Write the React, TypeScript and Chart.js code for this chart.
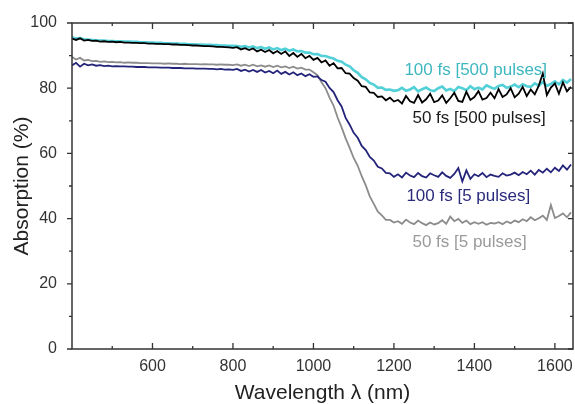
import React, { useEffect, useRef } from "react";
import { Chart, registerables } from "chart.js";

Chart.register(...registerables);

// sampling grid of the spectra (nm), 400..1640 every 10 nm
const wavelengths: number[] = Array.from({ length: 125 }, (_, i) => 400 + 10 * i);

const cyan500: number[] = [
  95.6, 95.2, 95.4, 95.0, 94.9, 94.8, 94.7, 94.6, 94.6, 94.5, 94.5,
  94.4, 94.4, 94.3, 94.3, 94.2, 94.2, 94.1, 94.1, 94.0, 94.0,
  93.9, 93.9, 93.8, 93.8, 93.7, 93.7, 93.6, 93.6, 93.5, 93.5,
  93.4, 93.4, 93.3, 93.3, 93.2, 93.2, 93.1, 93.1, 93.0, 93.0,
  92.9, 92.7, 92.9, 92.5, 92.8, 92.3, 92.6, 92.1, 92.5, 91.9,
  92.3, 91.7, 92.1, 91.5, 91.9, 91.3, 91.4, 90.9, 90.9, 90.4,
  90.5, 89.9, 89.9, 89.4, 89.1, 88.4, 88.1, 87.2, 86.7, 85.5,
  84.7, 83.4, 82.7, 81.6, 81.1, 80.1, 80.2, 79.5, 79.6, 79.2,
  79.4, 80.1, 79.2, 79.6, 80.3, 79.0, 79.7, 80.2, 79.4, 79.1,
  80.0, 80.5, 79.3, 79.8, 79.1, 80.4, 80.0, 79.4, 80.6, 79.7,
  80.2, 79.6, 80.9, 80.3, 79.8, 80.7, 81.0, 80.1, 80.5, 81.1,
  80.3, 81.2, 80.6, 80.4, 81.5, 80.8, 81.9, 80.7, 81.3, 82.1,
  81.2, 82.5, 81.7, 82.8,
];

const black500: number[] = [
  95.2, 94.8, 95.3, 94.6, 94.8, 94.5, 94.6, 94.3, 94.4, 94.2, 94.3,
  94.1, 94.2, 94.0, 94.0, 93.9, 93.9, 93.8, 93.8, 93.7, 93.7,
  93.6, 93.6, 93.5, 93.5, 93.4, 93.4, 93.3, 93.3, 93.2, 93.1,
  93.1, 93.0, 92.9, 92.9, 92.8, 92.7, 92.7, 92.6, 92.5, 92.4,
  92.6, 91.9, 92.3, 91.7, 92.2, 91.3, 91.8, 91.1, 91.7, 90.7,
  91.4, 90.5, 91.3, 89.9, 90.8, 89.6, 90.5, 89.2, 89.9, 88.7,
  89.3, 87.9, 88.5, 86.9, 87.7, 86.1, 86.2, 84.6, 84.5, 83.1,
  82.3, 80.6, 80.4, 78.7, 78.6, 77.3, 77.5, 76.3, 77.1, 75.9,
  76.4, 75.3, 77.6, 76.0, 75.5, 77.9, 75.6, 76.6, 78.3, 75.7,
  76.2, 77.8, 75.5, 76.9, 78.6, 76.1, 75.8, 78.9, 76.4, 77.3,
  79.1, 76.5, 77.0, 78.6, 76.9, 79.7, 77.3, 78.1, 80.0, 77.2,
  78.3, 80.4, 77.6, 79.6, 78.1, 80.8, 84.5, 77.9, 80.2, 81.5,
  78.3, 81.8, 79.0, 80.4,
];

const navy5: number[] = [
  87.0, 87.8, 86.6, 87.5, 87.0, 87.3, 86.9, 87.1, 86.8, 86.9, 86.7,
  86.8, 86.7, 86.7, 86.6, 86.6, 86.5, 86.5, 86.5, 86.4, 86.4,
  86.4, 86.3, 86.3, 86.3, 86.2, 86.2, 86.2, 86.1, 86.1, 86.1,
  86.0, 86.0, 86.0, 85.9, 85.9, 85.8, 85.9, 85.7, 85.8, 85.6,
  85.9, 85.3, 85.7, 85.1, 85.6, 85.0, 85.6, 84.8, 85.3, 84.6,
  85.4, 84.4, 85.0, 84.2, 84.9, 84.0, 84.5, 83.7, 84.3, 83.5,
  83.6, 82.5, 82.0, 80.1, 78.8, 76.3, 74.4, 70.9, 68.8, 66.3,
  64.8, 62.3, 61.0, 58.9, 57.8, 55.9, 55.4, 54.0, 53.9, 52.8,
  53.6, 52.6, 54.1, 53.2, 52.7, 54.0, 53.0, 52.6, 53.9, 53.3,
  52.8, 54.2, 53.1, 52.5, 53.7, 55.5, 51.4, 54.8, 52.2, 53.6,
  53.0, 54.0, 52.7, 53.5, 53.1, 52.8, 53.9, 53.2, 53.5, 54.1,
  53.3, 54.3, 53.6, 54.7, 53.5, 54.9, 54.1, 55.3, 54.2, 55.6,
  54.6, 56.3, 55.0, 56.6,
];

const gray5: number[] = [
  89.6, 88.8, 89.3, 88.5, 88.7, 88.3, 88.4, 88.1, 88.2, 88.0, 88.1,
  87.9, 88.0, 87.8, 87.9, 87.8, 87.8, 87.7, 87.7, 87.7, 87.6,
  87.6, 87.6, 87.5, 87.6, 87.5, 87.5, 87.4, 87.5, 87.4, 87.4,
  87.4, 87.3, 87.4, 87.3, 87.3, 87.2, 87.3, 87.2, 87.2, 87.1,
  87.3, 86.9, 87.2, 86.8, 87.2, 86.7, 87.0, 86.6, 87.0, 86.5,
  86.9, 86.4, 86.7, 86.2, 86.6, 86.0, 86.3, 85.7, 85.7, 84.9,
  84.0, 81.8, 80.0, 77.1, 74.7, 71.0, 68.0, 64.6, 61.7, 58.6,
  56.2, 53.0, 50.2, 46.8, 44.5, 42.1, 41.0, 39.6, 39.6, 38.8,
  39.2, 38.4, 39.7, 38.8, 38.3, 39.4, 38.6, 38.0, 38.8, 38.2,
  38.6, 39.5, 38.4, 40.6, 39.2, 39.9, 38.7, 39.4, 38.3, 38.9,
  38.4, 38.9, 38.1, 38.7, 38.5, 38.9, 38.3, 39.1, 38.6, 39.4,
  38.9, 39.8, 39.2, 40.4, 39.5, 40.1, 40.9, 39.6, 44.2, 40.2,
  40.8, 41.6, 40.4, 41.9,
];

const xTickValues: number[] = [600, 800, 1000, 1200, 1400, 1600];
const xMinorValues: number[] = [500, 700, 900, 1100, 1300, 1500];
const yTickValues: number[] = [0, 20, 40, 60, 80, 100];
const yMinorValues: number[] = [10, 30, 50, 70, 90];

const seriesNames: string[] = [
  "100 fs [500 pulses]",
  "50 fs [500 pulses]",
  "100 fs [5 pulses]",
  "50 fs [5 pulses]",
];

// label anchors in data coordinates (wavelength, absorption)
const labelAnchorX: number[] = [1226, 1246, 1231, 1246];
const labelAnchorY: number[] = [85.6, 70.9, 46.8, 32.7];
const labelColors: string[] = ["#3db7c0", "#1a1a1a", "#2b2b7d", "#9a9a9a"];

const FONT = '"Liberation Sans", Arial, Helvetica, sans-serif';

const framePlugin = {
  id: "frameTicksLabels",
  afterDatasetsDraw(chart: any) {
    const { ctx, chartArea, scales } = chart;
    const { left, right, top, bottom } = chartArea;
    const xs = scales.x;
    const ys = scales.y;
    ctx.save();
    ctx.strokeStyle = "#333333";
    ctx.lineWidth = 1.5;
    ctx.strokeRect(left, top, right - left, bottom - top);
    ctx.lineWidth = 1.3;
    ctx.beginPath();
    for (const v of xTickValues) {
      const px = xs.getPixelForValue(v);
      ctx.moveTo(px, bottom); ctx.lineTo(px, bottom - 6);
      ctx.moveTo(px, top); ctx.lineTo(px, top + 6);
    }
    for (const v of xMinorValues) {
      const px = xs.getPixelForValue(v);
      ctx.moveTo(px, bottom); ctx.lineTo(px, bottom - 3);
      ctx.moveTo(px, top); ctx.lineTo(px, top + 3);
    }
    for (const v of yTickValues) {
      const py = ys.getPixelForValue(v);
      ctx.moveTo(left, py); ctx.lineTo(left - 5, py);
      ctx.moveTo(right, py); ctx.lineTo(right - 5, py);
    }
    for (const v of yMinorValues) {
      const py = ys.getPixelForValue(v);
      ctx.moveTo(left, py); ctx.lineTo(left - 3, py);
      ctx.moveTo(right, py); ctx.lineTo(right - 3, py);
    }
    ctx.stroke();

    ctx.font = `17px ${FONT}`;
    ctx.textAlign = "left";
    ctx.textBaseline = "middle";
    seriesNames.forEach((name, i) => {
      ctx.fillStyle = labelColors[i];
      ctx.fillText(name, xs.getPixelForValue(labelAnchorX[i]), ys.getPixelForValue(labelAnchorY[i]));
    });
    ctx.restore();
  },
};

export default function App() {
  const canvasRef = useRef<HTMLCanvasElement | null>(null);

  useEffect(() => {
    document.body.style.margin = "0";
    const canvas = canvasRef.current;
    if (!canvas) return;
    const mk = (arr: number[]) => wavelengths.map((w, i) => ({ x: w, y: arr[i] }));
    const chart = new Chart(canvas, {
      type: "line",
      data: {
        datasets: [
          { label: seriesNames[1], data: mk(black500), borderColor: "#000000", borderWidth: 1.8 },
          { label: seriesNames[0], data: mk(cyan500), borderColor: "#52d0d8", borderWidth: 2.6 },
          { label: seriesNames[2], data: mk(navy5), borderColor: "#23237a", borderWidth: 1.8 },
          { label: seriesNames[3], data: mk(gray5), borderColor: "#8c8c8c", borderWidth: 1.8 },
        ].map((d) => ({ ...d, pointRadius: 0, tension: 0, fill: false })),
      },
      options: {
        animation: false,
        responsive: false,
        maintainAspectRatio: false,
        layout: { padding: { top: 23, right: 2, left: 0, bottom: 0 } },
        plugins: { legend: { display: false }, tooltip: { enabled: false } },
        scales: {
          x: {
            type: "linear",
            min: 400,
            max: 1645,
            grid: { display: false },
            border: { display: false },
            afterBuildTicks: (scale: any) => {
              scale.ticks = xTickValues.map((v) => ({ value: v }));
            },
            afterFit: (scale: any) => {
              scale.height = 55;
            },
            ticks: {
              callback: (v: any) => String(v),
              font: { family: FONT, size: 16 },
              color: "#333333",
              padding: 0,
              maxRotation: 0,
              autoSkip: false,
            },
            title: {
              display: true,
              text: "Wavelength λ (nm)",
              font: { family: FONT, size: 21, lineHeight: 1 },
              color: "#222222",
              padding: { top: 0, bottom: 0.5 },
            },
          },
          y: {
            type: "linear",
            min: 0,
            max: 100,
            grid: { display: false },
            border: { display: false },
            afterBuildTicks: (scale: any) => {
              scale.ticks = yTickValues.map((v) => ({ value: v }));
            },
            afterFit: (scale: any) => {
              scale.width = 72;
            },
            ticks: {
              callback: (v: any) => String(v),
              font: { family: FONT, size: 16 },
              color: "#333333",
              padding: 7,
            },
            title: {
              display: true,
              text: "Absorption (%)",
              font: { family: FONT, size: 21, lineHeight: 1 },
              color: "#222222",
              padding: { top: 11.5, bottom: 0 },
            },
          },
        },
      },
      plugins: [framePlugin],
    });
    return () => chart.destroy();
  }, []);

  return (
    <div style={{ width: 575, height: 404, background: "#ffffff" }}>
      <canvas ref={canvasRef} width={575} height={404} />
    </div>
  );
}
